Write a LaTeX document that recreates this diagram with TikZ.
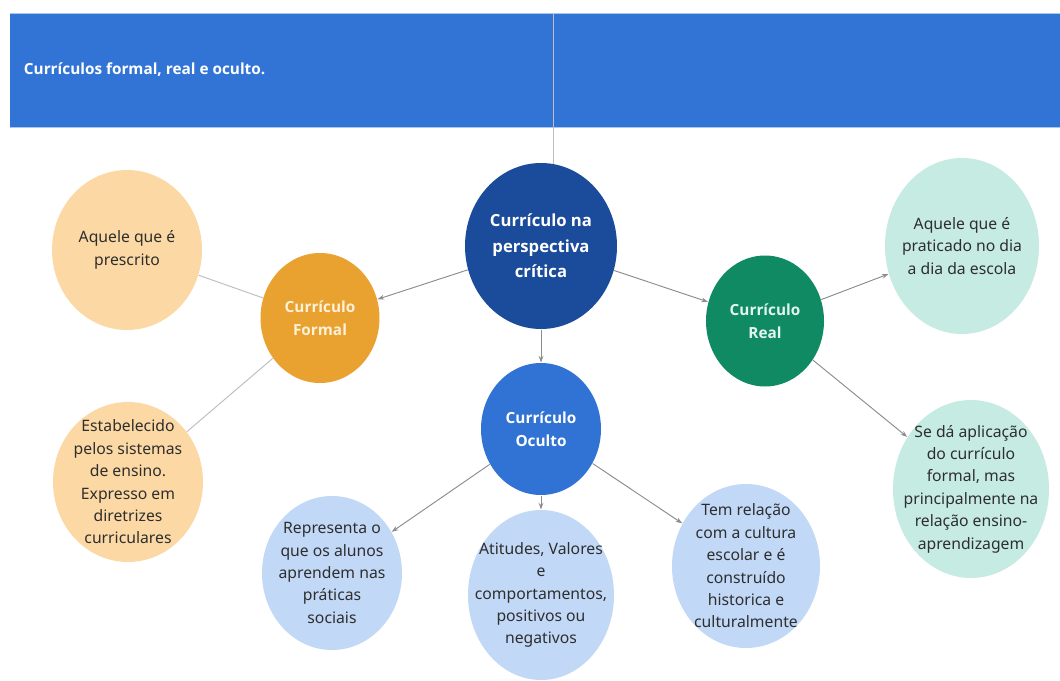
\documentclass[tikz,border=0pt]{standalone}
\usepackage{fontspec}
\setmainfont{Noto Sans}
\newfontfamily\titlefont{Open Sans}
\usetikzlibrary{shapes.geometric,arrows.meta}

\definecolor{headblue}{HTML}{3174D6}
\definecolor{headedge}{HTML}{A8C8EE}
\definecolor{critblue}{HTML}{1B4B9B}
\definecolor{formalorange}{HTML}{E9A230}
\definecolor{formalpeach}{HTML}{FCD9A4}
\definecolor{realgreen}{HTML}{0F8A62}
\definecolor{realmint}{HTML}{C6EBE2}
\definecolor{ocultoblue}{HTML}{3172D5}
\definecolor{ocultosky}{HTML}{C2D8F7}
\definecolor{leaftext}{HTML}{2E2E2E}
\definecolor{formalcream}{HTML}{FDF1DA}
\definecolor{realpale}{HTML}{E3F6EE}
\definecolor{linkgray}{HTML}{8C8C8C}
\definecolor{tiegray}{HTML}{BDBDBD}

\tikzset{every picture/.style={line width=0.75pt}}

\begin{document}
\begin{tikzpicture}[x=0.75pt,y=0.75pt,yscale=-1,xscale=1,
	dims/.style 2 args={minimum width=#1*0.75pt, minimum height=#2*0.75pt},
	bubble/.style={ellipse, inner sep=0pt},
	hubtxt/.style={align=center, inner sep=0pt, font=\titlefont\bfseries\fontsize{11.5}{17.5}\selectfont},
	leaftxt/.style={align=center, inner sep=0pt, text=leaftext, font=\fontsize{11.8}{16.8}\selectfont},
	hub/.style 2 args={bubble, label={[hubtxt, text=#2]center:{#1}}},
	leaf/.style={bubble, label={[leaftxt]center:{#1}}},
	link/.style={draw=linkgray, line width=0.7pt, -{Stealth[length=5pt,width=3.5pt]}},
	tie/.style={draw=tiegray, line width=0.7pt}]
	%set diagram to 1060 x 681
	\fill [white] (0,0) rectangle (1060,681);
	\useasboundingbox (0,0) rectangle (1060,681);

	%Shape: Title bar
	\fill [headblue] (10,13) rectangle (1060,127);
	\draw [headedge, line width=0.6pt] (10,13) -- (1060,13) (10,127) -- (1060,127);
	% Text Node
	\node [anchor=west, text=white, font=\titlefont\bfseries\fontsize{11.5}{14}\selectfont] (title) at (19,70) {Currículos formal, real e oculto.};
	%Straight Lines
	\draw [tiegray, line width=0.5pt] (553,13) -- (553,166);

	%Main bubbles
	\node [bubble, dims={152}{166}, fill=critblue, label={[hubtxt, text=white, font=\titlefont\bfseries\fontsize{12.5}{19}\selectfont]center:{Currículo na\\perspectiva\\crítica}}] (critica) at (541,246) {};
	\node [hub={Currículo\\Formal}{formalcream}, dims={119}{130}, fill=formalorange] (formal) at (320,318) {};
	\node [hub={Currículo\\Real}{realpale}, dims={118}{131}, fill=realgreen] (real) at (765,321) {};
	\node [hub={Currículo\\Oculto}{white}, dims={120}{132}, fill=ocultoblue] (oculto) at (541,429) {};

	%Formal leaves
	\node [leaf={Aquele que é\\prescrito}, dims={150}{160}, fill=formalpeach] (prescrito) at (127,250) {};
	\node [leaf={Estabelecido\\pelos sistemas\\de ensino.\\Expresso em\\diretrizes\\curriculares}, dims={150}{160}, fill=formalpeach] (sistemas) at (128,482) {};

	%Real leaves
	\node [leaf={Aquele que é\\praticado no dia\\a dia da escola}, dims={154}{176}, fill=realmint] (praticado) at (962,246) {};
	\node [leaf={Se dá aplicação\\do currículo\\formal, mas\\principalmente na\\relação ensino-\\aprendizagem}, dims={156}{178}, fill=realmint] (aplicacao) at (971,489) {};

	%Oculto leaves
	\node [leaf={Representa o\\que os alunos\\aprendem nas\\práticas\\sociais}, dims={140}{154}, fill=ocultosky] (praticas) at (332,573) {};
	\node [leaf={Atitudes, Valores\\e\\comportamentos,\\positivos ou\\negativos}, dims={146}{170}, fill=ocultosky] (atitudes) at (541,595) {};
	\node [leaf={Tem relação\\com a cultura\\escolar e é\\construído\\historica e\\culturalmente}, dims={148}{164}, fill=ocultosky] (cultura) at (746,566) {};

	%Connectors
	\draw [link] (critica) -- (formal);
	\draw [link] (critica) -- (real);
	\draw [link] (critica) -- (oculto);
	\draw [tie] (formal) -- (prescrito);
	\draw [tie] (formal) -- (sistemas);
	\draw [link] (real) -- (praticado);
	\draw [link] (real) -- (aplicacao);
	\draw [link] (oculto) -- (praticas);
	\draw [link] (oculto) -- (atitudes);
	\draw [link] (oculto) -- (cultura);

\end{tikzpicture}
\end{document}
